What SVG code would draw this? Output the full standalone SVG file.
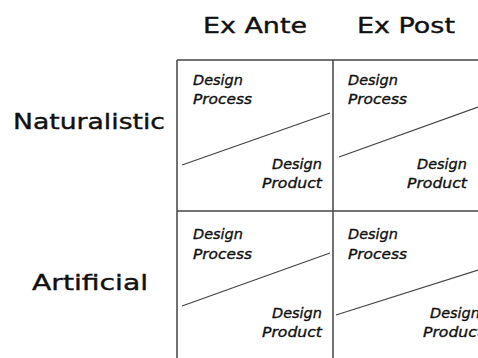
<svg xmlns="http://www.w3.org/2000/svg" width="478" height="358" viewBox="0 0 478 358">
<style>
.hdr{font-family:"DejaVu Sans","Liberation Sans",sans-serif;font-size:22px;fill:#111;stroke:#111;stroke-width:0.4}
.lbl{font-family:"DejaVu Sans","Liberation Sans",sans-serif;font-size:14px;font-style:italic;fill:#111;stroke:#111;stroke-width:0.35}
.grid{stroke:#444;stroke-width:1.5;fill:none}
.diag{stroke:#444;stroke-width:1.3;fill:none}
</style>
<rect width="478" height="358" fill="#fff"/>
<g id="headers">
<text class="hdr" x="203" y="33" textLength="104" lengthAdjust="spacingAndGlyphs">Ex Ante</text>
<text class="hdr" x="357" y="33" textLength="98" lengthAdjust="spacingAndGlyphs">Ex Post</text>
<text class="hdr" x="13" y="129" textLength="152" lengthAdjust="spacingAndGlyphs">Naturalistic</text>
<text class="hdr" x="32" y="290" textLength="116" lengthAdjust="spacingAndGlyphs">Artificial</text>
</g>
<g id="grid">
<path class="grid" d="M177,60 H478 M177,60 V358 M333,60 V358 M177,211 H478"/>
</g>
<g id="connectors">
<line class="diag" x1="182" y1="165" x2="330" y2="113"/>
<line class="diag" x1="339" y1="157" x2="478" y2="107"/>
<line class="diag" x1="182" y1="306" x2="330" y2="253"/>
<line class="diag" x1="336" y1="315" x2="478" y2="270"/>
</g>
<g id="cell-na">
<text class="lbl" x="193" y="85" textLength="50" lengthAdjust="spacingAndGlyphs">Design</text>
<text class="lbl" x="193" y="104" textLength="59" lengthAdjust="spacingAndGlyphs">Process</text>
<text class="lbl" x="272" y="169" textLength="50" lengthAdjust="spacingAndGlyphs">Design</text>
<text class="lbl" x="262" y="188" textLength="60" lengthAdjust="spacingAndGlyphs">Product</text>
</g>
<g id="cell-np">
<text class="lbl" x="348" y="85" textLength="50" lengthAdjust="spacingAndGlyphs">Design</text>
<text class="lbl" x="348" y="104" textLength="59" lengthAdjust="spacingAndGlyphs">Process</text>
<text class="lbl" x="417" y="169" textLength="50" lengthAdjust="spacingAndGlyphs">Design</text>
<text class="lbl" x="407" y="188" textLength="60" lengthAdjust="spacingAndGlyphs">Product</text>
</g>
<g id="cell-aa">
<text class="lbl" x="193" y="239" textLength="50" lengthAdjust="spacingAndGlyphs">Design</text>
<text class="lbl" x="193" y="259" textLength="59" lengthAdjust="spacingAndGlyphs">Process</text>
<text class="lbl" x="272" y="318" textLength="50" lengthAdjust="spacingAndGlyphs">Design</text>
<text class="lbl" x="262" y="337" textLength="60" lengthAdjust="spacingAndGlyphs">Product</text>
</g>
<g id="cell-ap">
<text class="lbl" x="348" y="239" textLength="50" lengthAdjust="spacingAndGlyphs">Design</text>
<text class="lbl" x="348" y="259" textLength="59" lengthAdjust="spacingAndGlyphs">Process</text>
<text class="lbl" x="430" y="318" textLength="50" lengthAdjust="spacingAndGlyphs">Design</text>
<text class="lbl" x="423" y="337" textLength="60" lengthAdjust="spacingAndGlyphs">Product</text>
</g>
</svg>
